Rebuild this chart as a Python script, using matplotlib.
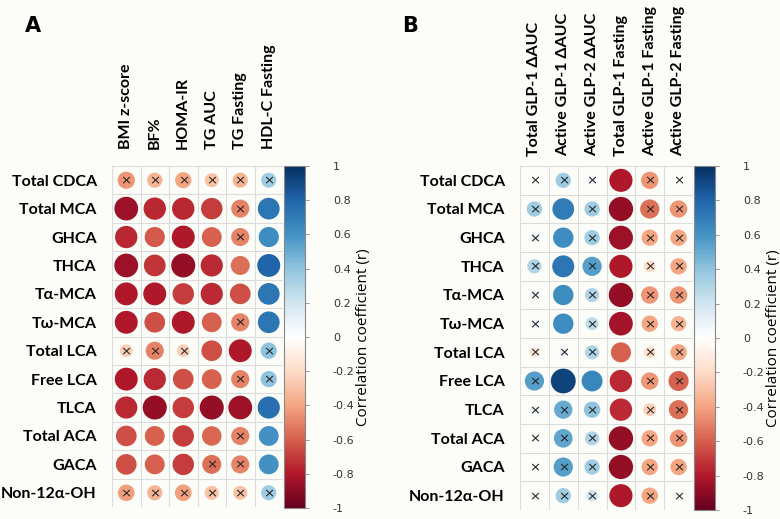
import numpy as np
import matplotlib.pyplot as plt
from matplotlib.colors import LinearSegmentedColormap, Normalize
from matplotlib.patches import Circle
import matplotlib.cm as cm

rows = ['Total CDCA', 'Total MCA', 'GHCA', 'THCA', 'Tα-MCA', 'Tω-MCA',
        'Total LCA', 'Free LCA', 'TLCA', 'Total ACA', 'GACA', 'Non-12α-OH']

cols_a = ['BMI z-score', 'BF%', 'HOMA-IR', 'TG AUC', 'TG Fasting', 'HDL-C Fasting']
r_a = [
    [-0.45, -0.35, -0.40, -0.30, -0.35, 0.35],
    [-0.86, -0.76, -0.76, -0.70, -0.50, 0.72],
    [-0.76, -0.62, -0.80, -0.60, -0.50, 0.62],
    [-0.86, -0.72, -0.88, -0.75, -0.55, 0.80],
    [-0.80, -0.80, -0.70, -0.75, -0.65, 0.72],
    [-0.80, -0.65, -0.80, -0.60, -0.50, 0.72],
    [-0.25, -0.50, -0.25, -0.65, -0.80, 0.40],
    [-0.80, -0.75, -0.65, -0.60, -0.50, 0.40],
    [-0.75, -0.88, -0.70, -0.88, -0.86, 0.75],
    [-0.65, -0.60, -0.70, -0.58, -0.50, 0.60],
    [-0.65, -0.60, -0.70, -0.55, -0.50, 0.60],
    [-0.42, -0.35, -0.42, -0.30, -0.30, 0.35],
]
ns_a = [
    [1, 1, 1, 1, 1, 1],
    [0, 0, 0, 0, 1, 0],
    [0, 0, 0, 0, 1, 0],
    [0, 0, 0, 0, 0, 0],
    [0, 0, 0, 0, 0, 0],
    [0, 0, 0, 0, 1, 0],
    [1, 1, 1, 0, 0, 1],
    [0, 0, 0, 0, 1, 1],
    [0, 0, 0, 0, 0, 0],
    [0, 0, 0, 0, 1, 0],
    [0, 0, 0, 1, 1, 0],
    [1, 1, 1, 1, 1, 1],
]

cols_b = ['Total GLP-1 ΔAUC', 'Active GLP-1 ΔAUC', 'Active GLP-2 ΔAUC',
          'Total GLP-1 Fasting', 'Active GLP-1 Fasting', 'Active GLP-2 Fasting']
r_b = [
    [0.05, 0.35, 0.10, -0.80, -0.45, -0.05],
    [0.35, 0.70, 0.35, -0.88, -0.55, -0.45],
    [0.10, 0.62, 0.35, -0.86, -0.40, -0.40],
    [0.30, 0.72, 0.55, -0.80, -0.20, -0.40],
    [0.10, 0.62, 0.30, -0.88, -0.45, -0.45],
    [0.10, 0.62, 0.25, -0.84, -0.40, -0.35],
    [-0.15, 0.10, 0.30, -0.60, -0.20, -0.40],
    [0.55, 0.92, 0.65, -0.75, -0.45, -0.60],
    [0.10, 0.50, 0.40, -0.75, -0.25, -0.55],
    [0.05, 0.52, 0.30, -0.88, -0.40, -0.45],
    [0.05, 0.55, 0.35, -0.88, -0.40, -0.40],
    [0.05, 0.35, 0.20, -0.80, -0.40, -0.05],
]
ns_b = [
    [1, 1, 1, 0, 1, 1],
    [1, 0, 1, 0, 1, 1],
    [1, 0, 1, 0, 1, 1],
    [1, 0, 1, 0, 1, 1],
    [1, 0, 1, 0, 1, 1],
    [1, 0, 1, 0, 1, 1],
    [1, 1, 1, 0, 1, 1],
    [1, 0, 0, 0, 1, 1],
    [1, 1, 1, 0, 1, 1],
    [1, 1, 1, 0, 1, 1],
    [1, 1, 1, 0, 1, 1],
    [1, 1, 1, 0, 1, 1],
]

cb_ticks = [-1, -0.8, -0.6, -0.4, -0.2, 0, 0.2, 0.4, 0.6, 0.8, 1]
cb_labels = ['-1', '-0.8', '-0.6', '-0.4', '-0.2', '0', '0.2', '0.4', '0.6', '0.8', '1']

cmap = LinearSegmentedColormap.from_list('corr', [
    '#67001F', '#B2182B', '#D6604D', '#F4A582', '#FDDBC7', '#FFFFFF',
    '#D1E5F0', '#92C5DE', '#4393C3', '#2166AC', '#053061'], N=200)
norm = Normalize(-1, 1)

W, H = 780, 519
bg = '#fcfcf8'
fig = plt.figure(figsize=(W / 100, H / 100), dpi=100, facecolor=bg)
lab_font = 'Lato'


def px_axes(x0, y0, x1, y1):
    return fig.add_axes([x0 / W, 1 - y1 / H, (x1 - x0) / W, (y1 - y0) / H])


def panel(box, cbox, cols, r, ns, letter, lpos, xpad):
    ax = px_axes(*box)
    ax.set_facecolor(bg)
    nr, nc = len(rows), len(cols)
    ax.set_xlim(0, nc)
    ax.set_ylim(nr, 0)
    for i in range(nr + 1):
        ax.axhline(i, color='#dcdcdc', lw=0.8, zorder=1)
    for j in range(nc + 1):
        ax.axvline(j, color='#dcdcdc', lw=0.8, zorder=1)
    for i in range(nr):
        for j in range(nc):
            v = r[i][j]
            rad = np.sqrt(abs(v)) * 0.45
            ax.add_patch(Circle((j + 0.5, i + 0.5), rad, facecolor=cmap(norm(v)),
                                edgecolor='none', zorder=2))
            if ns[i][j]:
                ax.text(j + 0.5, i + 0.53, '×', ha='center', va='center',
                        fontsize=9.5, color='#222222', zorder=3)
    ax.set_xticks(np.arange(nc) + 0.5)
    ax.set_xticklabels(cols, rotation=90, fontsize=11.5, fontweight='bold',
                       family=lab_font)
    ax.xaxis.tick_top()
    ax.set_yticks(np.arange(nr) + 0.5)
    ax.set_yticklabels(rows, fontsize=11.5, fontweight='bold', family=lab_font)
    ax.tick_params(axis='y', length=0, pad=11)
    ax.tick_params(axis='x', length=0, pad=xpad)
    for s in ax.spines.values():
        s.set_visible(False)

    cax = px_axes(*cbox)
    cb = fig.colorbar(cm.ScalarMappable(norm=norm, cmap=cmap), cax=cax)
    cb.set_ticks(cb_ticks)
    cb.set_ticklabels(cb_labels)
    cb.outline.set_edgecolor('#888888')
    cb.outline.set_linewidth(0.8)
    cax.tick_params(labelsize=8, color='#888888', labelcolor='#333333',
                    length=3, width=0.6, pad=17)
    cb.set_label('Correlation coefficient (r)', fontsize=11, family='Open Sans')
    cax.yaxis.set_label_coords(3.45, 0.5)
    fig.text(lpos[0] / W, 1 - lpos[1] / H, letter, fontsize=15, fontweight='bold',
             ha='center', va='center')


panel((112, 166, 283, 507), (284, 166, 305, 508), cols_a, r_a, ns_a, 'A', (33, 26), 12)
panel((520, 166, 693, 510), (694, 166, 715, 510), cols_b, r_b, ns_b, 'B', (410, 26), 7)

fig.savefig('out.png', dpi=100, facecolor=bg)
